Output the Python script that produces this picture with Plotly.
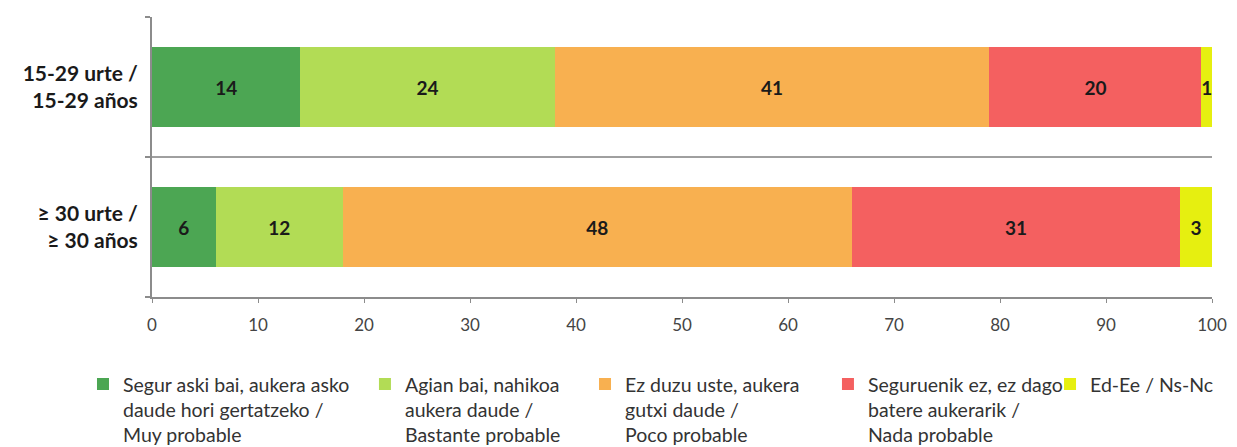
import plotly.graph_objects as go

categories = ["15-29 urte /<br>15-29 años", "≥ 30 urte /<br>≥ 30 años"]
series_names = [
    "Segur aski bai, aukera asko<br>daude hori gertatzeko /<br>Muy probable",
    "Agian bai, nahikoa<br>aukera daude /<br>Bastante probable",
    "Ez duzu uste, aukera<br>gutxi daude /<br>Poco probable",
    "Seguruenik ez, ez dago<br>batere aukerarik /<br>Nada probable",
    "Ed-Ee / Ns-Nc",
]
values = [
    [14, 6],
    [24, 12],
    [41, 48],
    [20, 31],
    [1, 3],
]
colors = ["#4ca653", "#b2dc55", "#f8b050", "#f46060", "#e6ef10"]
x_ticks = [0, 10, 20, 30, 40, 50, 60, 70, 80, 90, 100]

FONT = "Lato, 'Open Sans', sans-serif"
legend_ids = ["legend", "legend2", "legend3", "legend4", "legend5"]
legend_x = [-0.0651, 0.2009, 0.4085, 0.6377, 0.8472]

fig = go.Figure()
for name, vals, col, lid in zip(series_names, values, colors, legend_ids):
    fig.add_trace(go.Bar(
        y=categories, x=vals, name=name, orientation="h",
        marker=dict(color=col, line=dict(width=0)),
        text=[str(v) for v in vals], textposition="inside",
        insidetextanchor="middle",
        textfont=dict(family=FONT, size=19, color="#1a1a1a", weight="bold"),
        width=0.57, legend=lid,
    ))

fig.add_shape(type="line", xref="paper", yref="y", x0=0, x1=1, y0=0.5, y1=0.5,
              line=dict(color="#404040", width=1))

legend_cfg = {}
for lid, lx in zip(legend_ids, legend_x):
    legend_cfg[lid] = dict(orientation="h", x=lx, xanchor="left", y=-0.242, yanchor="top",
                           font=dict(family=FONT, size=19.5, color="#333333"),
                           valign="top", itemwidth=30, bgcolor="rgba(0,0,0,0)")

fig.update_layout(
    barmode="stack",
    width=1280, height=480,
    margin=dict(l=144, r=76, t=9, b=191),
    paper_bgcolor="white", plot_bgcolor="white",
    font=dict(family=FONT, color="#333333"),
    uniformtext=dict(minsize=19, mode="show"),
    showlegend=True,
    xaxis=dict(range=[0, 100], tickvals=x_ticks, showgrid=False, zeroline=False,
               showline=True, linecolor="#8c8c8c", linewidth=2,
               ticks="outside", ticklen=4, tickcolor="#8c8c8c",
               tickfont=dict(family=FONT, size=17, color="#444444"),
               ticklabelstandoff=8),
    yaxis=dict(categoryorder="array", categoryarray=categories[::-1],
               showgrid=False, zeroline=False, showline=True,
               linecolor="#8c8c8c", linewidth=2,
               ticks="outside", tickson="boundaries", ticklen=5,
               tickcolor="#8c8c8c", tickwidth=2,
               tickfont=dict(family=FONT, size=21, color="#1a1a1a", weight="bold"),
               ticklabelstandoff=8),
    **legend_cfg,
)

fig.write_html("out.html")
